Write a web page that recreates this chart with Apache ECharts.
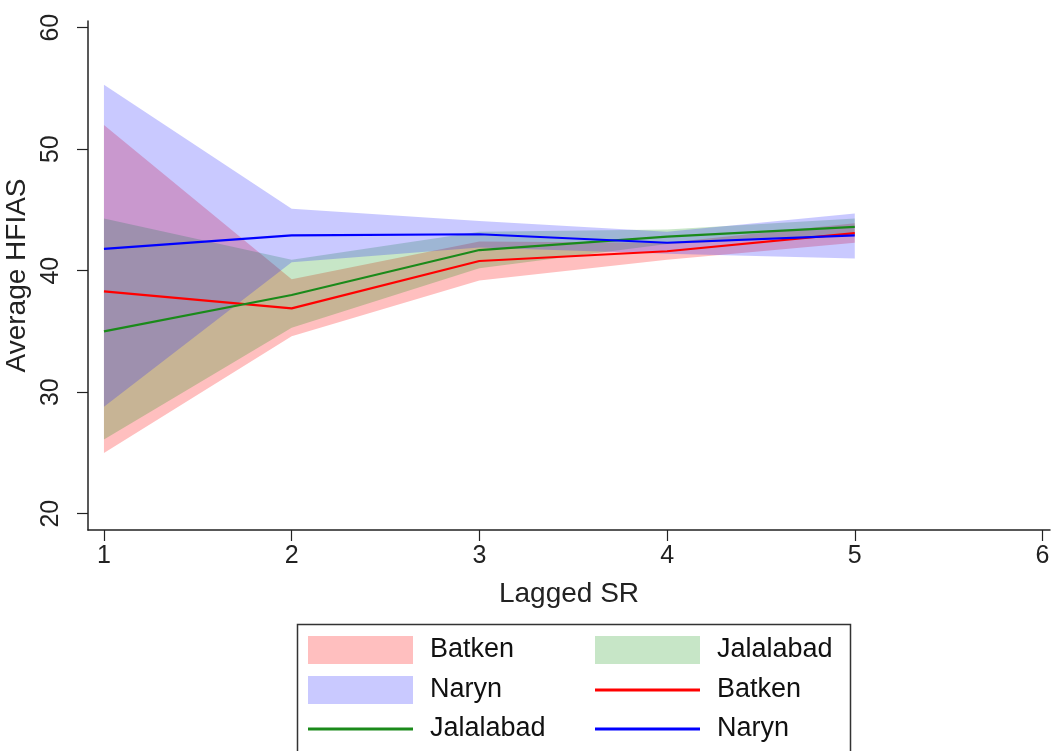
<!DOCTYPE html>
<html>
<head>
<meta charset="utf-8">
<script src="https://cdn.jsdelivr.net/npm/echarts@6/dist/echarts.min.js"></script>
<style>
html,body{margin:0;padding:0;background:#fff;}
#c{width:1053px;height:751px;}
</style>
</head>
<body>
<div id="c"></div>
<script>
// ---- data ----
const lagX = [1, 2, 3, 4, 5];
const xTicks = [1, 2, 3, 4, 5, 6];
const yTicks = [20, 30, 40, 50, 60];

const batkenMean = [38.3, 36.9, 40.8, 41.6, 43.1];
const batkenLow  = [25.0, 34.6, 39.2, 40.9, 42.3];
const batkenHigh = [52.0, 39.3, 42.4, 42.3, 43.9];

const jalalabadMean = [35.0, 38.0, 41.7, 42.8, 43.6];
const jalalabadLow  = [26.1, 35.3, 40.2, 42.2, 42.9];
const jalalabadHigh = [44.3, 40.9, 43.2, 43.4, 44.3];

const narynMean = [41.8, 42.9, 43.0, 42.3, 42.9];
const narynLow  = [28.8, 40.7, 41.9, 41.4, 41.0];
const narynHigh = [55.3, 45.1, 44.1, 43.2, 44.7];

// legend order: [name, column, row]
const legendItems = [
  ['Batken band', 0, 0], ['Jalalabad band', 1, 0],
  ['Naryn band', 0, 1], ['Batken line', 1, 1],
  ['Jalalabad line', 0, 2], ['Naryn line', 1, 2]
];

// ---- styles ----
const FONT = 'Liberation Sans, Arial, sans-serif';
const bandColors = {
  Batken: 'rgba(255,0,0,0.25)',
  Jalalabad: 'rgba(0,140,0,0.22)',
  Naryn: 'rgba(30,30,255,0.24)'
};
const lineColors = { Batken: '#ff0000', Jalalabad: '#1a8a1a', Naryn: '#0000ff' };

function pairs(xs, ys) { return xs.map((x, i) => [x, ys[i]]); }

function bandSeries(key, lo, hi) {
  return {
    type: 'custom',
    name: key + ' band',
    silent: true,
    itemStyle: { color: bandColors[key] },
    data: [[lagX[0], lo[0]]],
    encode: { x: 0, y: 1 },
    renderItem: function (params, api) {
      const pts = [];
      for (let i = 0; i < lagX.length; i++) pts.push(api.coord([lagX[i], hi[i]]));
      for (let i = lagX.length - 1; i >= 0; i--) pts.push(api.coord([lagX[i], lo[i]]));
      return { type: 'polygon', shape: { points: pts }, style: { fill: bandColors[key], stroke: null } };
    }
  };
}

function lineSeries(key, ys) {
  return {
    type: 'line',
    name: key + ' line',
    data: pairs(lagX, ys),
    symbol: 'none',
    silent: true,
    lineStyle: { color: lineColors[key], width: 2.2 },
    itemStyle: { color: lineColors[key] }
  };
}

const colLeft = [308, 595];
const rowCenter = [648, 688, 727];

function makeLegend(item) {
  const n = item[0];
  const key = n.split(' ')[0];
  const isBand = n.endsWith('band');
  const h = isBand ? 28 : 3;
  return {
    orient: 'horizontal',
    left: colLeft[item[1]],
    top: rowCenter[item[2]] - 13,
    height: 30,
    itemWidth: 105,
    itemHeight: h,
    selectedMode: false,
    padding: 0,
    data: [{ name: n, icon: 'rect', itemStyle: { color: isBand ? bandColors[key] : lineColors[key] } }],
    formatter: s => s.split(' ')[0],
    textStyle: { fontFamily: FONT, fontSize: 27, color: '#111', padding: [0, 0, 0, 12], lineHeight: 30 }
  };
}

const chart = echarts.init(document.getElementById('c'), null, { renderer: 'canvas' });
chart.setOption({
  animation: false,
  backgroundColor: '#fff',
  grid: { left: 88, right: 3, top: 21, bottom: 221, containLabel: false, outerBoundsMode: 'none' },
  xAxis: {
    type: 'value',
    min: 0.915,
    max: 6.04,
    name: 'Lagged SR',
    nameLocation: 'middle',
    nameGap: 50,
    nameTextStyle: { fontFamily: FONT, fontSize: 28, color: '#222' },
    axisLine: { show: true, onZero: false, lineStyle: { color: '#222', width: 1.5 } },
    axisTick: { show: true, length: 11, customValues: xTicks, lineStyle: { color: '#222', width: 1.2 } },
    axisLabel: { customValues: xTicks, fontFamily: FONT, fontSize: 25, color: '#222', margin: 14 },
    splitLine: { show: false }
  },
  yAxis: {
    type: 'value',
    min: 18.66,
    max: 60.55,
    name: 'Average HFIAS',
    nameLocation: 'middle',
    nameRotate: 90,
    nameGap: 56,
    nameTextStyle: { fontFamily: FONT, fontSize: 28, color: '#222' },
    axisLine: { show: true, onZero: false, lineStyle: { color: '#222', width: 1.5 } },
    axisTick: { show: true, length: 11, customValues: yTicks, lineStyle: { color: '#222', width: 1.2 } },
    axisLabel: { customValues: yTicks, rotate: 90, fontFamily: FONT, fontSize: 25, color: '#222', margin: 24 },
    splitLine: { show: false }
  },
  legend: legendItems.map(makeLegend),
  graphic: [{
    type: 'rect',
    left: 295, top: 622,
    shape: { width: 553, height: 140 },
    style: { fill: 'none', stroke: '#333', lineWidth: 1.5 },
    z: -1
  }],
  series: [
    bandSeries('Batken', batkenLow, batkenHigh),
    bandSeries('Jalalabad', jalalabadLow, jalalabadHigh),
    bandSeries('Naryn', narynLow, narynHigh),
    lineSeries('Batken', batkenMean),
    lineSeries('Jalalabad', jalalabadMean),
    lineSeries('Naryn', narynMean)
  ]
});
</script>
</body>
</html>
